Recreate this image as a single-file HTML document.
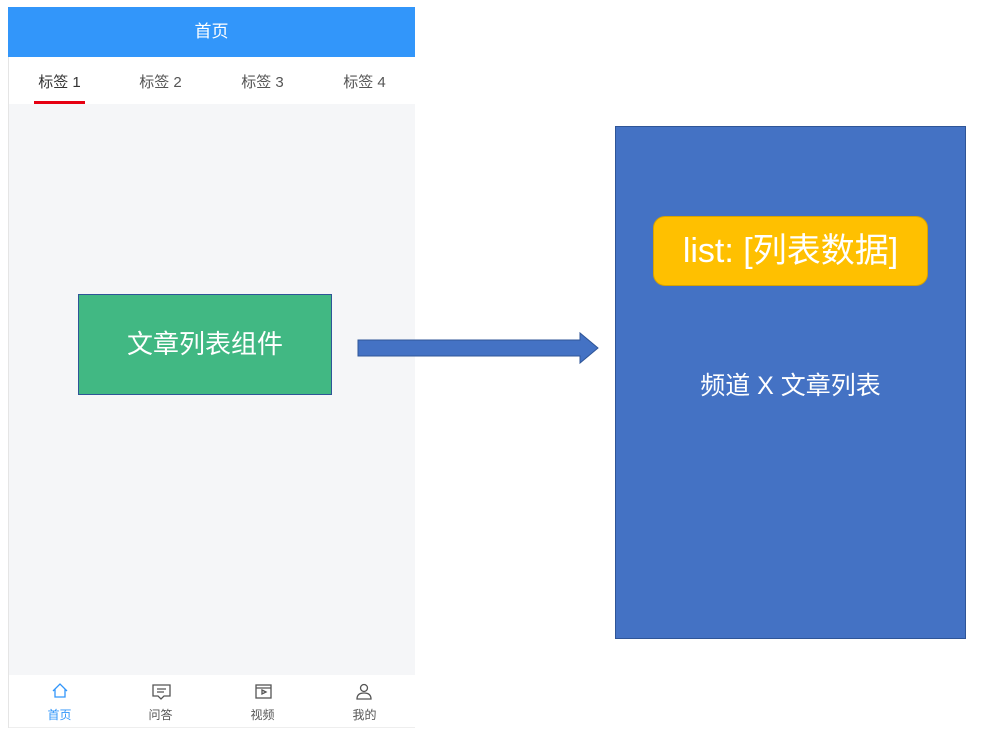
<!DOCTYPE html>
<html><head><meta charset="utf-8"><style>
body{margin:0;width:1004px;height:737px;background:#fff;position:relative;overflow:hidden;font-family:"Liberation Sans","Noto Sans CJK SC",sans-serif}
.a{position:absolute}
.tab{position:absolute;top:71px;font-size:15px;color:#555;width:101px;text-align:center}
.nav{position:absolute;top:684px;width:101px;text-align:center;font-size:12px;color:#555}
</style></head><body>
<div class="a" style="left:8px;top:7px;width:407px;height:721px;border-left:1px solid #e5e5e5;box-sizing:border-box;background:#fff"></div>
<div class="a" style="left:8px;top:7px;width:407px;height:50px;background:#3296fa;color:#fff;font-size:17px;text-align:center;line-height:50px">首页</div>
<div class="tab" style="left:9px;color:#333">标签 1</div>
<div class="tab" style="left:110px">标签 2</div>
<div class="tab" style="left:212px">标签 3</div>
<div class="tab" style="left:314px">标签 4</div>
<div class="a" style="left:34px;top:101px;width:51px;height:3px;background:#e60012"></div>
<div class="a" style="left:9px;top:104px;width:406px;height:571px;background:#f5f6f8"></div>
<div class="a" style="left:9px;top:727px;width:406px;height:1px;background:#eee"></div>
<div class="a" style="left:78px;top:294px;width:254px;height:101px;background:#41b883;border:1px solid #2f5597;box-sizing:border-box;color:#fff;font-size:26px;text-align:center;line-height:99px">文章列表组件</div>
<svg class="a" style="left:0;top:0" width="1004" height="737">
<polygon points="358,340 580,340 580,333 598,348 580,363 580,356 358,356" fill="#4472c4" stroke="#2f5597"/>
<g fill="none" stroke="#3296fa" stroke-width="1.3"><path d="M53,691 L60,684 L67,691 M55,689 V697 H65 V689"/></g>
<g fill="none" stroke="#555" stroke-width="1.3">
<path d="M153,685 H170 V696 H164 L161,699 L158,696 H153 Z M157,689 H166 M157,692 H164"/>
<rect x="256" y="685" width="15" height="13"/><path d="M256,688 H271 M262,690 L266,692 L262,694Z"/>
<circle cx="364" cy="688" r="3.5"/><path d="M357,699 Q357,693 364,693 Q371,693 371,699 Z"/>
</g></svg>
<div class="nav" style="left:9px;color:#3296fa;top:706px">首页</div>
<div class="nav" style="left:110px;top:706px">问答</div>
<div class="nav" style="left:212px;top:706px">视频</div>
<div class="nav" style="left:314px;top:706px">我的</div>
<div class="a" style="left:615px;top:126px;width:351px;height:513px;background:#4472c4;border:1px solid #2f5597;box-sizing:border-box"></div>
<div class="a" style="left:653px;top:216px;width:275px;height:70px;background:#ffc000;border:1px solid #d9a300;border-radius:12px;box-sizing:border-box;color:#fff;font-size:34px;text-align:center;line-height:68px">list: [列表数据]</div>
<div class="a" style="left:615px;top:366px;width:351px;text-align:center;color:#fff;font-size:25px">频道 X 文章列表</div>
</body></html>
